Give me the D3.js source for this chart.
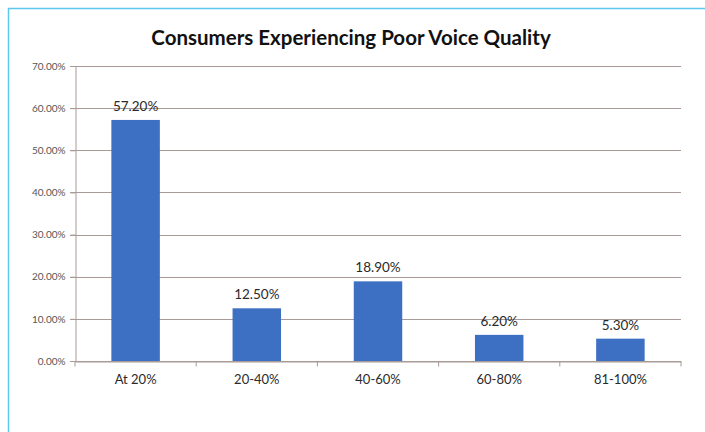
<!DOCTYPE html>
<html><head><meta charset="utf-8">
<script src="https://cdn.jsdelivr.net/npm/d3@7"></script>
<style>
html,body{margin:0;padding:0;background:#fff;}
svg{display:block;}
</style></head>
<body>
<svg id="chart" width="705" height="432"></svg>
<script>
const categories = ["At 20%", "20-40%", "40-60%", "60-80%", "81-100%"];
const values = [57.2, 12.5, 18.9, 6.2, 5.3];
const yTicks = [0, 10, 20, 30, 40, 50, 60, 70];
const title = "Consumers Experiencing Poor Voice Quality";

const svg = d3.select("#chart");
const W = 705, H = 432;
const m = {left: 75, right: 24, top: 66, bottom: 71};
const font = "Lato, 'Open Sans', sans-serif";

// frame border (light blue)
svg.append("line").attr("x1", 8).attr("x2", W).attr("y1", 8.5).attr("y2", 8.5)
  .attr("stroke", "#5cc8ee").attr("stroke-width", 1.5);
svg.append("line").attr("x1", 8.5).attr("x2", 8.5).attr("y1", 8).attr("y2", H)
  .attr("stroke", "#5cc8ee").attr("stroke-width", 1.5);

const x = d3.scaleBand().domain(categories).range([m.left, W - m.right]).paddingInner(0.6).paddingOuter(0.3);
const y = d3.scaleLinear().domain([0, 70]).range([H - m.bottom, m.top]);

// gridlines
svg.append("g").selectAll("line").data(yTicks).join("line")
  .attr("x1", m.left - 5).attr("x2", W - m.right)
  .attr("y1", d => Math.round(y(d)) + 0.5).attr("y2", d => Math.round(y(d)) + 0.5)
  .attr("stroke", "#a89a96").attr("stroke-width", 1);

// y axis
const yAxis = svg.append("g").attr("transform", `translate(${m.left + 0.5},0)`)
  .call(d3.axisLeft(y).tickValues(yTicks).tickFormat(d => d.toFixed(2) + "%").tickSize(5).tickPadding(5));
yAxis.select(".domain").attr("stroke", "#a89a96");
yAxis.selectAll(".tick line").attr("stroke", "#a89a96");
yAxis.selectAll("text").attr("font-family", font).attr("font-size", 10).attr("fill", "#555");

// bars
svg.append("g").selectAll("rect").data(values).join("rect")
  .attr("x", (d, i) => x(categories[i]))
  .attr("width", x.bandwidth())
  .attr("y", d => y(d))
  .attr("height", d => y(0) - y(d))
  .attr("fill", "#3d6fc2");

// data labels
svg.append("g").selectAll("text").data(values).join("text")
  .attr("x", (d, i) => x(categories[i]) + x.bandwidth() / 2)
  .attr("y", d => y(d) - 9)
  .attr("text-anchor", "middle")
  .attr("font-family", font).attr("font-size", 13.5).attr("fill", "#2a2a2a")
  .text(d => d.toFixed(2) + "%");

// x axis
const xAxis = svg.append("g").attr("transform", `translate(0,${Math.round(y(0)) + 0.5})`)
  .call(d3.axisBottom(x).tickSize(0).tickPadding(13));
xAxis.select(".domain").attr("stroke", "#a89a96");
xAxis.selectAll("text").attr("font-family", font).attr("font-size", 13).attr("fill", "#2a2a2a");
// category boundary ticks
const bounds = d3.range(categories.length + 1).map(i => m.left + i * (W - m.right - m.left) / categories.length);
xAxis.append("g").selectAll("line").data(bounds).join("line")
  .attr("x1", d => d).attr("x2", d => d).attr("y1", 0).attr("y2", 5)
  .attr("stroke", "#a89a96");

// title
svg.append("text").attr("x", 351).attr("y", 45).attr("text-anchor", "middle")
  .attr("font-family", font).attr("font-weight", "bold").attr("font-size", 20.5).attr("fill", "#111")
  .text(title);
</script>
</body></html>
